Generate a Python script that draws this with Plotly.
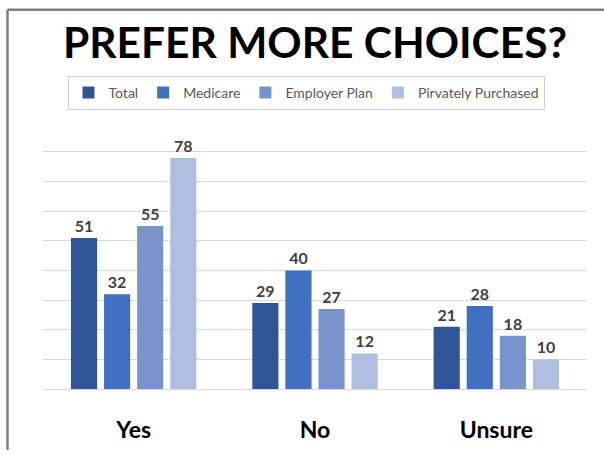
import plotly.graph_objects as go

# Survey answers and the share of each group giving them
categories = ["Yes", "No", "Unsure"]
series_names = ["Total", "Medicare", "Employer Plan", "Pirvately Purchased"]
total = [51, 29, 21]
medicare = [32, 40, 28]
employer_plan = [55, 27, 18]
privately_purchased = [78, 12, 10]
series_colors = ["#2F5597", "#4270C0", "#7B93CD", "#AFBDDF"]

W, H = 604, 455
L, R, T, B = 43, 17, 149, 62
plot_w, plot_h = W - L - R, H - T - B


def px_x(px):
    return (px - L) / plot_w


def px_y(py):
    return (H - B - py) / plot_h


fig = go.Figure()
for name, vals, col in zip(series_names,
                           [total, medicare, employer_plan, privately_purchased],
                           series_colors):
    fig.add_trace(go.Bar(
        x=categories, y=vals, name=name,
        marker=dict(color=col, line=dict(width=0)),
        text=[str(v) for v in vals], textposition="outside",
        textfont=dict(family="Lato", size=16, color="#404040", weight="bold"),
        cliponaxis=False,
    ))

fig.update_layout(
    width=W, height=H,
    margin=dict(l=L, r=R, t=T, b=B),
    paper_bgcolor="white", plot_bgcolor="white",
    barmode="group", bargap=0.27, bargroupgap=0.21,
    title=dict(text="<b>PREFER MORE CHOICES?</b>",
               font=dict(family="Lato", size=42.5, color="#000000"),
               x=0.5, xanchor="center", xref="paper",
               y=1 - 43 / H, yanchor="middle", yref="container"),
    legend=dict(orientation="h", x=px_x(306), xanchor="center",
                y=px_y(92), yanchor="middle",
                bordercolor="#D0D0D0", borderwidth=1,
                font=dict(family="Lato", size=14, color="#595959"),
                itemwidth=30, tracegroupgap=0),
    xaxis=dict(showgrid=False, showline=True, linecolor="#D9D9D9",
               tickfont=dict(family="Lato", size=23, color="#000000", weight="bold"),
               ticklabelstandoff=20, ticks=""),
    yaxis=dict(range=[0, 81], tickvals=[10, 20, 30, 40, 50, 60, 70, 80],
               showgrid=True, gridcolor="#D9D9D9",
               gridwidth=1, showticklabels=False, zeroline=False, ticks=""),
    showlegend=True,
)

# Frame lines along the top and left edges
border = dict(type="line", xref="paper", yref="paper",
              line=dict(color="#808080", width=2.5))
fig.add_shape(**border, x0=px_x(7.5), y0=px_y(7.5), x1=px_x(W), y1=px_y(7.5))
fig.add_shape(**border, x0=px_x(7.5), y0=px_y(7.5), x1=px_x(7.5), y1=px_y(H))

fig.write_html("out.html")
